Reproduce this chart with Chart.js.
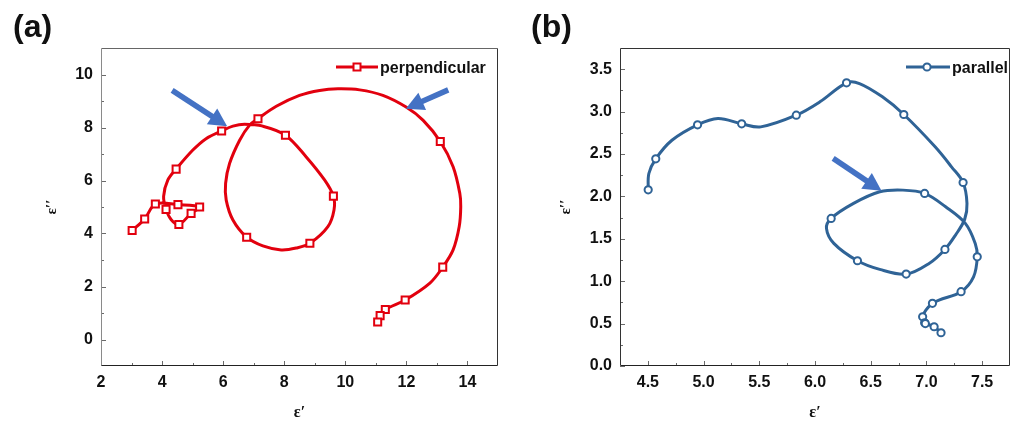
<!DOCTYPE html>
<html><head><meta charset="utf-8">
<script src="https://cdn.jsdelivr.net/npm/chart.js@4.4.0/dist/chart.umd.min.js"></script>
<style>
html,body{margin:0;padding:0;background:#fff;}
#wrap{position:relative;width:1016px;height:428px;overflow:hidden;background:#fff;}
canvas{position:absolute;top:0;}
#ca{left:0}
#cb{left:508px}
</style></head><body>
<div id="wrap"><canvas id="ca" width="508" height="428"></canvas><canvas id="cb" width="508" height="428"></canvas></div>
<script>
// ---------- Panel (a): perpendicular ----------
const perpCurveX = [3.02,3.43,3.78,4.52,5.23,4.95,4.55,4.30,4.13,4.05,4.19,4.46,5.00,5.44,5.95,6.32,6.70,7.30,8.04,8.72,9.32,9.61,9.63,9.43,8.84,8.39,7.90,7.30,6.77,6.32,6.10,6.08,6.21,6.54,6.86,7.14,7.74,8.50,9.16,9.76,10.47,11.23,11.99,12.55,13.11,13.53,13.75,13.78,13.73,13.53,13.19,12.77,11.96,11.31,11.14,11.06];
const perpCurveY = [4.11,4.55,5.11,5.09,5.00,4.76,4.34,4.52,4.91,5.40,6.02,6.43,7.14,7.58,7.87,8.05,8.12,8.05,7.71,6.89,6.02,5.41,4.89,4.26,3.63,3.45,3.38,3.53,3.86,4.51,5.26,5.89,6.64,7.52,8.08,8.33,8.80,9.21,9.40,9.46,9.42,9.21,8.77,8.27,7.47,6.52,5.51,5.01,4.26,3.38,2.73,2.13,1.49,1.13,0.90,0.66];
const perpMarkX = [3.02,3.43,3.78,4.52,5.23,4.95,4.55,4.13,4.46,5.95,8.04,9.61,8.84,6.77,7.14,13.11,13.19,11.96,11.31,11.14,11.06];
const perpMarkY = [4.11,4.55,5.11,5.09,5.00,4.76,4.34,4.91,6.43,7.87,7.71,5.41,3.63,3.86,8.33,7.47,2.73,1.49,1.13,0.90,0.66];
const xTicksA = [2,4,6,8,10,12,14];
const yTicksA = [0,2,4,6,8,10];
const arrowsA = [[4.33,9.40,6.13,8.05],[13.37,9.42,11.98,8.71]];

// ---------- Panel (b): parallel ----------
const parCurveX = [4.503,4.509,4.571,4.716,4.946,5.129,5.342,5.513,5.832,6.044,6.283,6.399,6.605,6.797,7.078,7.225,7.329,7.364,7.343,7.261,7.166,7.024,6.818,6.581,6.381,6.169,6.103,6.145,6.346,6.581,6.789,6.984,7.172,7.349,7.438,7.456,7.423,7.311,7.113,7.054,6.995,6.966,6.984,6.99,7.069,7.131];
const parCurveY = [2.078,2.27,2.443,2.662,2.844,2.919,2.856,2.82,2.958,3.115,3.339,3.331,3.174,2.966,2.585,2.349,2.164,1.917,1.729,1.544,1.375,1.21,1.084,1.139,1.241,1.446,1.623,1.740,1.917,2.054,2.074,2.035,1.877,1.682,1.446,1.288,1.052,0.876,0.778,0.739,0.66,0.581,0.510,0.50,0.463,0.392];
const parMarkX = [4.503,4.571,4.946,5.342,5.832,6.283,6.797,7.329,7.166,6.818,6.381,6.145,6.984,7.456,7.311,7.054,6.966,6.984,6.99,7.069,7.131];
const parMarkY = [2.078,2.443,2.844,2.856,2.958,3.339,2.966,2.164,1.375,1.084,1.241,1.740,2.035,1.288,0.876,0.739,0.581,0.510,0.50,0.463,0.392];
const xTicksB = [4.5,5.0,5.5,6.0,6.5,7.0,7.5];
const yTicksB = [0.0,0.5,1.0,1.5,2.0,2.5,3.0,3.5];
const arrowsB = [[6.163,2.448,6.597,2.066]];

const RED = '#E2000E';
const BLUE = '#2F6396';
const ARROW = '#4472C4';
const FONT = 'Arial, "Liberation Sans", sans-serif';
const SERIF = '"Times New Roman", "Liberation Serif", serif';

const zip = (xs, ys) => xs.map((x, i) => ({x, y: ys[i]}));

function minorOf(ticks, min, max) {
  const step = ticks[1] - ticks[0];
  const out = [];
  ticks.forEach(t => {
    [t - step / 2, t + step / 2].forEach(m => {
      if (m > min + 1e-9 && m < max - 1e-9 && !out.some(o => Math.abs(o - m) < 1e-9)) out.push(m);
    });
  });
  return out;
}

function drawArrow(ctx, x1, y1, x2, y2, w, hl, hw, color) {
  const a = Math.atan2(y2 - y1, x2 - x1);
  const bx = x2 - hl * Math.cos(a), by = y2 - hl * Math.sin(a);
  ctx.strokeStyle = color; ctx.lineWidth = w; ctx.lineCap = 'butt';
  ctx.beginPath(); ctx.moveTo(x1, y1); ctx.lineTo(bx + Math.cos(a), by + Math.sin(a)); ctx.stroke();
  ctx.fillStyle = color; ctx.beginPath(); ctx.moveTo(x2, y2);
  ctx.lineTo(bx + hw * Math.sin(a), by - hw * Math.cos(a));
  ctx.lineTo(bx - hw * Math.sin(a), by + hw * Math.cos(a));
  ctx.closePath(); ctx.fill();
}

const decoPlugin = {
  id: 'deco',
  afterDraw(chart, args, o) {
    const ctx = chart.ctx, ca = chart.chartArea, xs = chart.scales.x, ys = chart.scales.y;
    ctx.save();
    // tick marks (inward)
    ctx.lineWidth = 1; ctx.strokeStyle = '#6a6a6a';
    const xMaj = o.xTicks, yMaj = o.yTicks;
    const xMin = minorOf(xMaj, xs.min, xs.max), yMin = minorOf(yMaj, ys.min, ys.max);
    const vt = (v, len) => { const p = Math.round(xs.getPixelForValue(v)) + 0.5; ctx.beginPath(); ctx.moveTo(p, ca.bottom); ctx.lineTo(p, ca.bottom - len); ctx.stroke(); };
    const ht = (v, len) => { const p = Math.round(ys.getPixelForValue(v)) + 0.5; ctx.beginPath(); ctx.moveTo(ca.left, p); ctx.lineTo(ca.left + len, p); ctx.stroke(); };
    xMaj.forEach(v => vt(v, 5)); xMin.forEach(v => vt(v, 3));
    yMaj.forEach(v => ht(v, 5)); yMin.forEach(v => ht(v, 3));
    // frame
    const L = Math.round(ca.left) + 0.5, R = Math.round(ca.right) - 0.5, T = Math.round(ca.top) + 0.5, B = Math.round(ca.bottom) - 0.5;
    const seg = (x1, y1, x2, y2, c) => { ctx.strokeStyle = c; ctx.beginPath(); ctx.moveTo(x1, y1); ctx.lineTo(x2, y2); ctx.stroke(); };
    seg(L, T, R, T, o.frame[0]); seg(R, T, R, B, o.frame[1]); seg(L, B, R, B, o.frame[2]); seg(L, T, L, B, o.frame[3]);
    // arrows
    o.arrows.forEach(a => drawArrow(ctx, xs.getPixelForValue(a[0]), ys.getPixelForValue(a[1]), xs.getPixelForValue(a[2]), ys.getPixelForValue(a[3]), 5.5, 18, 9.5, ARROW));
    // legend
    const lg = o.legend;
    ctx.strokeStyle = lg.color; ctx.lineWidth = 3;
    ctx.beginPath(); ctx.moveTo(lg.x1, lg.y); ctx.lineTo(lg.x2, lg.y); ctx.stroke();
    ctx.fillStyle = '#fff'; ctx.lineWidth = 2;
    if (lg.shape === 'rect') { ctx.fillRect(lg.mx - 3.5, lg.y - 3.5, 7, 7); ctx.strokeRect(lg.mx - 3.5, lg.y - 3.5, 7, 7); }
    else { ctx.beginPath(); ctx.arc(lg.mx, lg.y, 3.6, 0, Math.PI * 2); ctx.fill(); ctx.stroke(); }
    ctx.fillStyle = '#111'; ctx.font = 'bold 16px ' + FONT; ctx.textAlign = 'left'; ctx.textBaseline = 'alphabetic';
    ctx.fillText(lg.text, lg.tx, lg.y + 5.5);
    // panel label
    ctx.font = 'bold 32px ' + FONT; ctx.fillStyle = '#111';
    ctx.fillText(o.label, o.labelX, 37);
    ctx.restore();
  }
};

function makeChart(id, cfg) {
  return new Chart(document.getElementById(id), {
    type: 'scatter',
    data: { datasets: [
      { data: zip(cfg.cx, cfg.cy), showLine: true, borderColor: cfg.color, borderWidth: 3, pointRadius: 0, tension: 0.35, order: 2 },
      { data: zip(cfg.mx, cfg.my), showLine: false, pointStyle: cfg.shape, pointRadius: cfg.radius, pointBorderWidth: 2,
        pointBackgroundColor: '#fff', pointBorderColor: cfg.color, order: 1 }
    ]},
    options: {
      responsive: false, animation: false, events: [],
      layout: { padding: { left: 0, top: 48, right: cfg.padRight, bottom: 0 } },
      plugins: { legend: { display: false }, tooltip: { enabled: false }, deco: cfg.deco },
      scales: {
        x: { type: 'linear', min: cfg.xmin, max: cfg.xmax,
          afterBuildTicks: s => { s.ticks = cfg.xt.map(v => ({ value: v })); },
          afterFit: s => { s.height = 62; },
          grid: { display: false, drawTicks: false }, border: { display: false },
          ticks: { padding: 7, color: '#111', font: { family: FONT, size: 16, weight: 'bold' }, callback: cfg.fmt },
          title: { display: true, text: 'ε′', color: '#111', font: { family: SERIF, size: 16, weight: 'bold' }, padding: { top: 0, bottom: 6 } } },
        y: { type: 'linear', min: cfg.ymin, max: cfg.ymax,
          afterBuildTicks: s => { s.ticks = cfg.yt.map(v => ({ value: v })); },
          afterFit: s => { s.width = cfg.yWidth; },
          grid: { display: false, drawTicks: false }, border: { display: false },
          ticks: { padding: 8, color: '#111', font: { family: FONT, size: 16, weight: 'bold' }, callback: cfg.fmt },
          title: { display: true, text: 'ε′′', color: '#111', font: { family: SERIF, size: 15, weight: 'bold' }, padding: { top: cfg.yTitlePad, bottom: 0 } } }
      }
    },
    plugins: [decoPlugin]
  });
}

makeChart('ca', {
  cx: perpCurveX, cy: perpCurveY, mx: perpMarkX, my: perpMarkY, color: RED, shape: 'rect', radius: 5,
  xmin: 2, xmax: 15, ymin: -1, ymax: 11, xt: xTicksA, yt: yTicksA, fmt: v => String(v),
  padRight: 10, yWidth: 101, yTitlePad: 43,
  deco: { xTicks: xTicksA, yTicks: yTicksA, arrows: arrowsA, frame: ['#666', '#333', '#222', '#8a8a8a'],
    legend: { color: RED, shape: 'rect', x1: 336, x2: 378, mx: 357, y: 67, tx: 380, text: 'perpendicular' },
    label: '(a)', labelX: 13 }
});

makeChart('cb', {
  cx: parCurveX, cy: parCurveY, mx: parMarkX, my: parMarkY, color: BLUE, shape: 'circle', radius: 3.6,
  xmin: 4.25, xmax: 7.75, ymin: 0, ymax: 3.75, xt: xTicksB, yt: yTicksB, fmt: v => Number(v).toFixed(1),
  padRight: 1, yWidth: 112, yTitlePad: 49,
  deco: { xTicks: xTicksB, yTicks: yTicksB, arrows: arrowsB, frame: ['#333', '#333', '#222', '#333'],
    legend: { color: BLUE, shape: 'circle', x1: 398, x2: 442, mx: 419, y: 67, tx: 444, text: 'parallel' },
    label: '(b)', labelX: 23 }
});
</script>
</body></html>
